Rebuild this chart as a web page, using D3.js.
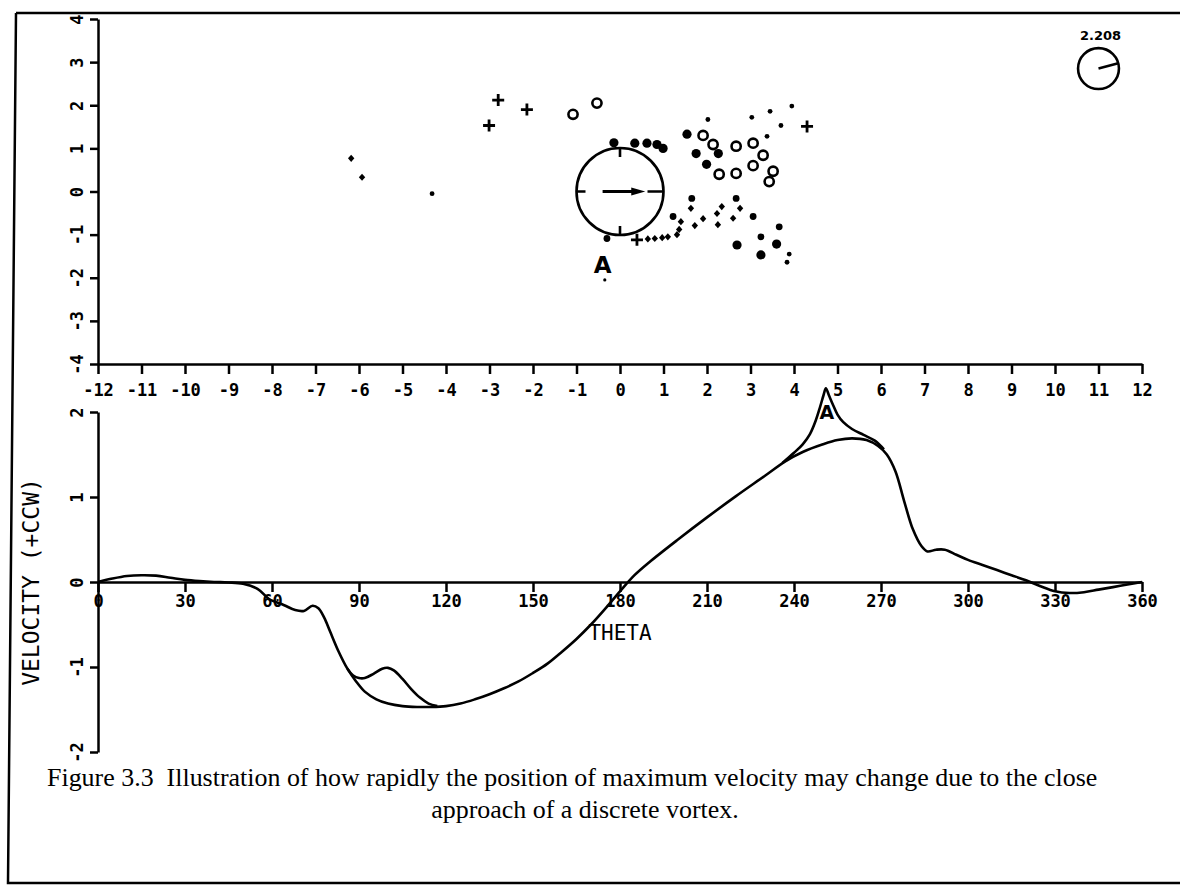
<!DOCTYPE html>
<html>
<head>
<meta charset="utf-8">
<script src="https://cdn.jsdelivr.net/npm/d3@7"></script>
<style>
  body { margin: 0; background: #fff; }
  .tick text { font-family: "DejaVu Sans Mono", monospace; font-weight: bold; font-size: 17px; fill: #000; }
  .axis path, .axis line { stroke: #000; stroke-width: 2.5; }
</style>
</head>
<body>
<script>
// ---- data ----
// top panel: vortex positions (x, y)
var plusPts = [[-2.80,2.12],[-2.14,1.90],[-3.01,1.53],[4.30,1.51],[0.39,-1.12]];
var ringPts = [[-1.08,1.79],[-0.53,2.05],[1.91,1.30],[2.14,1.09],[2.67,1.05],[3.06,1.12],
  [3.29,0.84],[3.06,0.60],[2.28,0.40],[2.67,0.42],[3.52,0.47],[3.43,0.23]];
var bigDots = [[-0.14,1.13],[0.34,1.12],[0.62,1.12],[0.85,1.09],[0.99,1.0],[1.54,1.33],
  [1.75,0.88],[2.26,0.88],[1.99,0.63],[2.69,-1.24],[3.60,-1.22],[3.24,-1.47]];
var medDots = [[1.65,-0.16],[2.67,-0.16],[3.06,-0.58],[3.66,-0.82],[3.24,-1.05],[1.22,-0.58],[-0.30,-1.09]];
var diamondPts = [[-6.18,0.77],[-5.93,0.33],[1.63,-0.39],[1.40,-0.70],[1.91,-0.63],[1.72,-0.79],
  [2.25,-0.77],[2.23,-0.51],[2.34,-0.35],[2.76,-0.39],[2.60,-0.62],[0.64,-1.10],[0.80,-1.09],
  [0.97,-1.07],[1.10,-1.05],[1.31,-1.0],[1.36,-0.88]];
var smallDots = [[-4.32,-0.05],[2.02,1.67],[3.03,1.72],[3.45,1.86],[3.70,1.53],[3.95,1.98],
  [3.38,1.28],[3.89,-1.45],[3.84,-1.64],[-0.35,-2.05]];
var bodyCircle = {x: 0, y: 0, r: 1, arrowFrom: -0.4, arrowTo: 0.58};
var refCircle = {x: 11, y: 2.85, r: 0.47, angle: 15, label: "2.208"};
var topXTicks = d3.range(-12, 13);
var topYTicks = d3.range(-4, 5);

// bottom panel: velocity vs theta
var velocity = [[0,0],[5,0.04],[10,0.07],[15,0.08],[20,0.075],[25,0.05],[30,0.025],[35,0.01],
  [40,0],[45,-0.005],[50,-0.02],[55,-0.08],[59,-0.2],[64,-0.27],[68,-0.33],[71,-0.34],
  [74,-0.28],[76,-0.31],[78,-0.42],[80,-0.58],[83,-0.82],[86,-1.02],[89,-1.17],[92,-1.29],
  [96,-1.38],[100,-1.43],[105,-1.46],[110,-1.47],[115,-1.47],[120,-1.46],[125,-1.43],
  [130,-1.38],[135,-1.32],[140,-1.25],[145,-1.17],[150,-1.07],[155,-0.96],[160,-0.82],
  [165,-0.67],[170,-0.5],[175,-0.31],[180,-0.11],[185,0.08],[190,0.23],[200,0.5],[210,0.76],
  [220,1.01],[230,1.25],[237,1.42],[243,1.53],[250,1.62],[255,1.67],[260,1.69],[265,1.67],
  [269,1.6],[272,1.5],[275,1.3],[278,0.95],[281,0.62],[284,0.42],[286,0.36],[289,0.38],
  [292,0.38],[296,0.32],[300,0.26],[305,0.2],[310,0.14],[315,0.08],[320,0.02],[325,-0.05],
  [330,-0.11],[335,-0.13],[340,-0.12],[345,-0.09],[350,-0.06],[355,-0.03],[360,0]];
var dipBranch = [[86,-1.02],[88,-1.1],[90,-1.13],[92,-1.13],[95,-1.08],[98,-1.02],[100,-1.01],
  [102,-1.04],[105,-1.14],[108,-1.26],[111,-1.36],[114,-1.43],[117,-1.46]];
var peakBranch = [[236,1.40],[240,1.52],[243,1.62],[245.5,1.74],[247.5,1.9],[249,2.06],[250.2,2.2],
  [251,2.28],[252,2.2],[253.5,2.08],[255,1.97],[257,1.88],[260,1.8],[264,1.73],[268,1.66],[271,1.56]];
var botXTicks = d3.range(0, 361, 30);
var botYTicks = [-2, -1, 0, 1, 2];

var captionLines = ["Figure 3.3  Illustration of how rapidly the position of maximum velocity may change due to the close",
  "approach of a discrete vortex."];

// ---- drawing ----
var w = 1180, h = 886;
var svg = d3.select('body').append('svg').attr('width', w).attr('height', h);

// page frame
svg.append('path')
  .attr('d', 'M16,13 L1180,13 M16,13 L8,883 L1180,883')
  .attr('fill', 'none').attr('stroke', '#000').attr('stroke-width', 2.5);

// scales
var xTop = d3.scaleLinear().domain([-12, 12]).range([98, 1142]);
var yTop = d3.scaleLinear().domain([-4, 4]).range([364, 19]);
var xBot = d3.scaleLinear().domain([0, 360]).range([98, 1142]);
var yBot = d3.scaleLinear().domain([-2, 2]).range([752, 412]);
var fmt = d => String(d);

function styleYLabels(g) {
  g.selectAll('.tick text')
    .attr('x', 0).attr('dy', 0)
    .attr('text-anchor', 'middle')
    .attr('dominant-baseline', 'central')
    .attr('transform', 'translate(-21,0) rotate(-90)');
}
function styleXLabels(off) {
  return function(g) {
    g.selectAll('.tick text').attr('dy', 0).attr('y', off).attr('dominant-baseline', 'central');
  };
}

// top axes
svg.append('g').attr('class', 'axis')
  .attr('transform', `translate(0,${yTop(-4)})`)
  .call(d3.axisBottom(xTop).tickValues(topXTicks).tickSize(10).tickSizeOuter(0).tickFormat(fmt))
  .call(styleXLabels(26));
svg.append('g').attr('class', 'axis')
  .attr('transform', `translate(${xTop(-12)},0)`)
  .call(d3.axisLeft(yTop).tickValues(topYTicks).tickSize(8).tickSizeOuter(0).tickFormat(fmt))
  .call(styleYLabels);

// bottom axes
svg.append('g').attr('class', 'axis')
  .attr('transform', `translate(0,${yBot(0)})`)
  .call(d3.axisBottom(xBot).tickValues(botXTicks).tickSize(10).tickSizeOuter(0).tickFormat(fmt))
  .call(styleXLabels(19));
svg.append('g').attr('class', 'axis')
  .attr('transform', `translate(${xBot(0)},0)`)
  .call(d3.axisLeft(yBot).tickValues(botYTicks).tickSize(8).tickSizeOuter(0).tickFormat(fmt))
  .call(styleYLabels);

// top panel marks
var ux = xTop(1) - xTop(0);
var topG = svg.append('g');

topG.selectAll('path.plus').data(plusPts).enter().append('path')
  .attr('d', d => { var cx = xTop(d[0]), cy = yTop(d[1]); return `M${cx-6},${cy}H${cx+6}M${cx},${cy-6}V${cy+6}`; })
  .attr('stroke', '#000').attr('stroke-width', 2.8);
topG.selectAll('circle.ring').data(ringPts).enter().append('circle')
  .attr('cx', d => xTop(d[0])).attr('cy', d => yTop(d[1])).attr('r', 4.6)
  .attr('fill', 'none').attr('stroke', '#000').attr('stroke-width', 2.6);
topG.selectAll('circle.big').data(bigDots).enter().append('circle')
  .attr('cx', d => xTop(d[0])).attr('cy', d => yTop(d[1])).attr('r', 4.6).attr('fill', '#000');
topG.selectAll('circle.med').data(medDots).enter().append('circle')
  .attr('cx', d => xTop(d[0])).attr('cy', d => yTop(d[1])).attr('r', 3.4).attr('fill', '#000');
topG.selectAll('path.dia').data(diamondPts).enter().append('path')
  .attr('d', d => { var cx = xTop(d[0]), cy = yTop(d[1]); return `M${cx},${cy-3.6}L${cx+3.2},${cy}L${cx},${cy+3.6}L${cx-3.2},${cy}Z`; })
  .attr('fill', '#000');
topG.selectAll('circle.small').data(smallDots).enter().append('circle')
  .attr('cx', d => xTop(d[0])).attr('cy', d => yTop(d[1])).attr('r', (d, i) => i === smallDots.length - 1 ? 1.6 : 2.4)
  .attr('fill', '#000');

// the body circle with its marks and arrow
var bx = xTop(bodyCircle.x), by = yTop(bodyCircle.y), br = bodyCircle.r * ux;
topG.append('circle').attr('cx', bx).attr('cy', by).attr('r', br)
  .attr('fill', 'none').attr('stroke', '#000').attr('stroke-width', 2.6);
topG.append('path')
  .attr('d', `M${bx-br},${by}h9 M${bx+br},${by}h-16 M${bx},${by-br}v9 M${bx},${by+br}v-9`)
  .attr('stroke', '#000').attr('stroke-width', 2.6);
var ax0 = xTop(bodyCircle.arrowFrom), ax1 = xTop(bodyCircle.arrowTo);
topG.append('path').attr('d', `M${ax0},${by}H${ax1-10}`).attr('stroke', '#000').attr('stroke-width', 3);
topG.append('path').attr('d', `M${ax1-14},${by-4}L${ax1},${by}L${ax1-14},${by+4}Z`).attr('fill', '#000');
topG.append('text').attr('x', xTop(-0.4)).attr('y', yTop(-1.7)).attr('text-anchor', 'middle')
  .attr('dominant-baseline', 'central')
  .style('font-family', '"DejaVu Sans", sans-serif').style('font-weight', 'bold').style('font-size', '23px')
  .text('A');

// reference vortex at top right
var rx = xTop(refCircle.x), ry = yTop(refCircle.y), rr = refCircle.r * ux;
var ang = refCircle.angle * Math.PI / 180;
topG.append('circle').attr('cx', rx).attr('cy', ry).attr('r', rr)
  .attr('fill', 'none').attr('stroke', '#000').attr('stroke-width', 2.6);
topG.append('path').attr('d', `M${rx},${ry}L${rx + rr*Math.cos(ang)},${ry - rr*Math.sin(ang)}`)
  .attr('stroke', '#000').attr('stroke-width', 2.6);
topG.append('text').attr('x', rx + 2).attr('y', ry - rr - 8).attr('text-anchor', 'middle')
  .style('font-family', '"DejaVu Sans", sans-serif').style('font-weight', 'bold').style('font-size', '13px')
  .text(refCircle.label);

// bottom panel curves
var line = d3.line().x(d => xBot(d[0])).y(d => yBot(d[1])).curve(d3.curveCatmullRom.alpha(0.5));
[velocity, dipBranch, peakBranch].forEach(function(s) {
  svg.append('path').attr('d', line(s)).attr('fill', 'none')
    .attr('stroke', '#000').attr('stroke-width', 2.6).attr('stroke-linejoin', 'round');
});
svg.append('text').attr('x', xBot(251.3)).attr('y', yBot(2.0)).attr('text-anchor', 'middle')
  .attr('dominant-baseline', 'central')
  .style('font-family', '"DejaVu Sans", sans-serif').style('font-weight', 'bold').style('font-size', '19px')
  .text('A');

// axis titles
svg.append('text').attr('x', 620).attr('y', 633).attr('text-anchor', 'middle')
  .attr('dominant-baseline', 'central')
  .style('font-family', '"DejaVu Sans Mono", monospace').style('font-size', '21px')
  .text('THETA');
svg.append('text').attr('transform', `translate(31,${yBot(0)}) rotate(-90)`).attr('text-anchor', 'middle')
  .attr('dominant-baseline', 'central')
  .style('font-family', '"DejaVu Sans Mono", monospace').style('font-size', '23px')
  .text('VELOCITY (+CCW)');

// caption
var cap1 = svg.append('text').attr('x', 47).attr('y', 786)
  .style('font-family', '"Liberation Serif", serif').style('font-size', '21px').attr('xml:space', 'preserve')
  .text(captionLines[0]);
var fs = 21 * 1051 / cap1.node().getComputedTextLength();
cap1.style('font-size', fs + 'px');
svg.append('text').attr('x', 585).attr('y', 818).attr('text-anchor', 'middle')
  .style('font-family', '"Liberation Serif", serif').style('font-size', fs + 'px')
  .text(captionLines[1]);
</script>
</body>
</html>
